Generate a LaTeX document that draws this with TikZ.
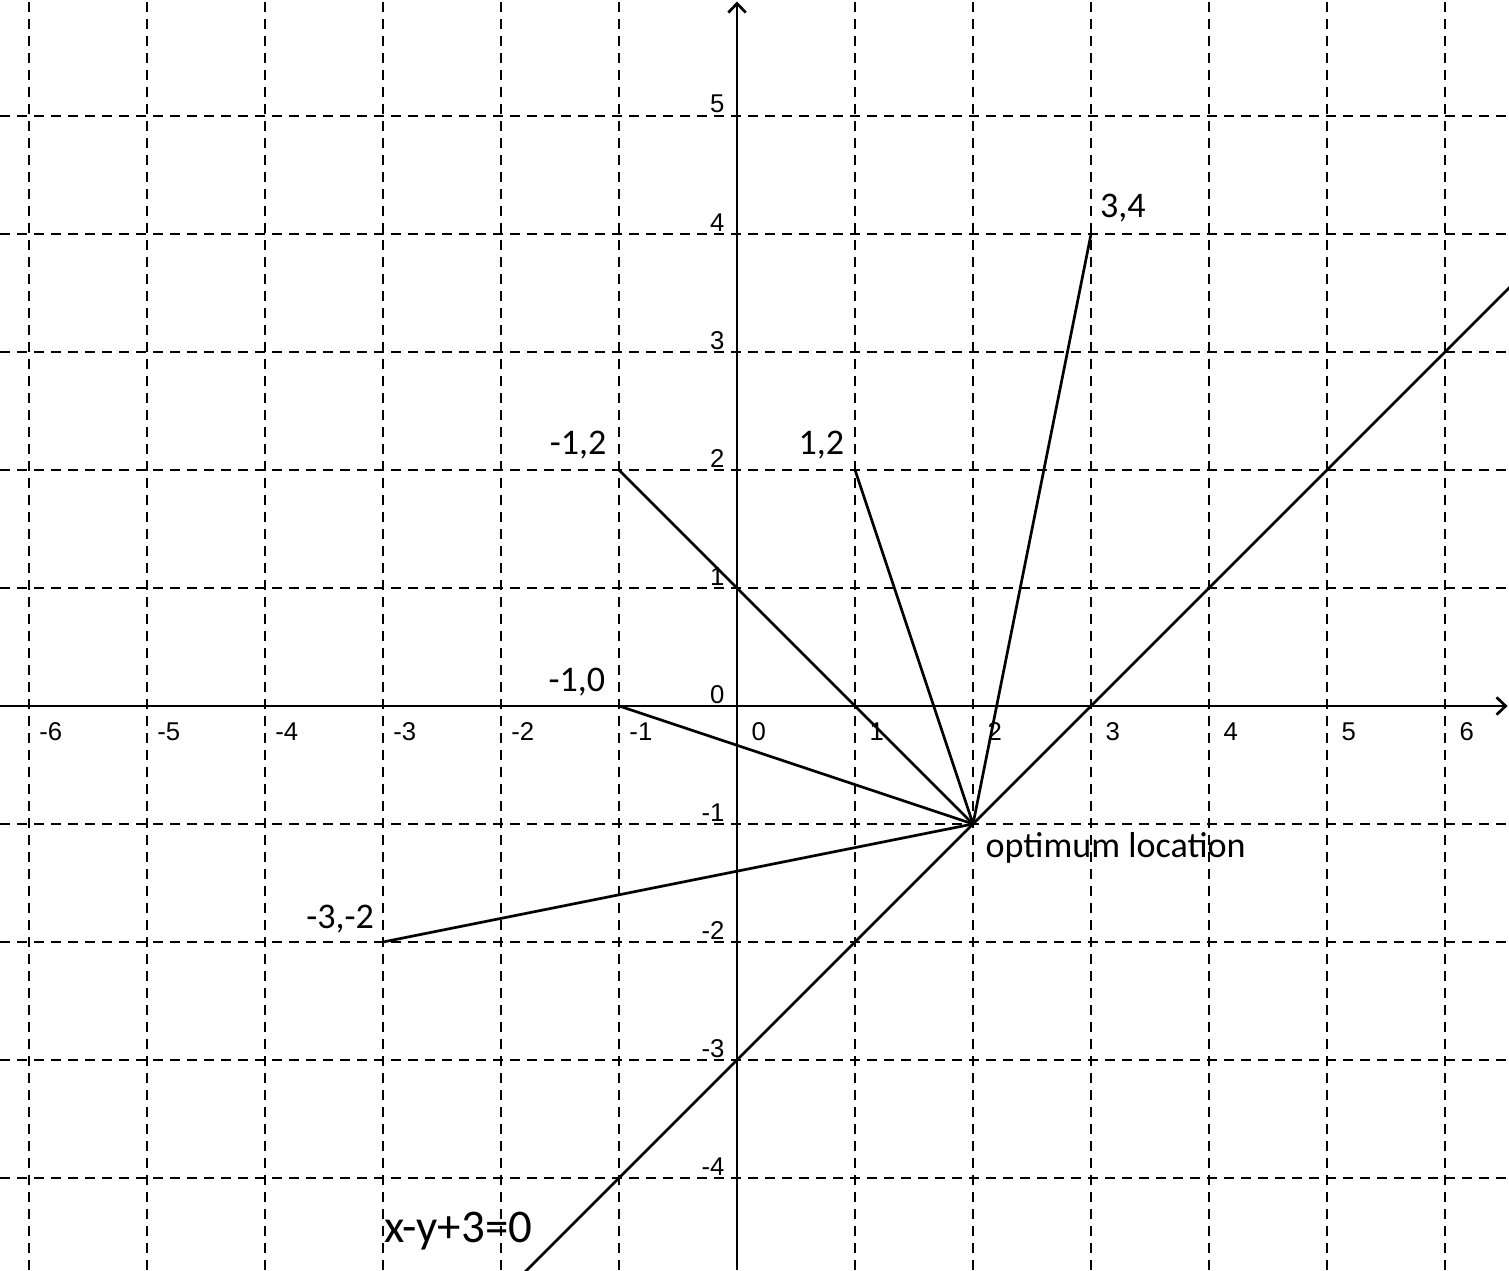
\documentclass[tikz,border=0pt]{standalone}
\usepackage{fontspec}
\setmainfont{Carlito}
\newfontfamily\ticksfont{Liberation Sans}
\usetikzlibrary{arrows.meta, positioning}

\begin{document}
\begin{tikzpicture}[
  gridline/.style={dash pattern=on 2.4pt off 1.7pt, line width=0.5pt},
  axis/.style={-{Straight Barb[length=2.2pt, width=4.2pt]}, line width=0.65pt},
  link/.style={line width=0.65pt},
  tick/.style={font=\ticksfont\fontsize{6.2}{7}\selectfont, inner sep=0pt},
  ptlabel/.style={font=\fontsize{8.7}{10}\selectfont, inner sep=0pt},
]
  \useasboundingbox (-6.246,-4.780) rectangle (6.542,5.983);
  \clip (-6.246,-4.780) rectangle (6.542,5.983);

  % Grid
  \foreach \x in {-6,...,-1,1,2,...,6}
    \draw[gridline] (\x,-4.78) -- (\x,5.983);
  \foreach \y in {-4,...,-1,1,2,...,5}
    \draw[gridline] (-6.246,\y) -- (6.542,\y);

  % Axes
  \draw[axis] (-6.246,0) -- (6.53,0);
  \draw[axis] (0,-4.78) -- (0,5.97);

  % Tick labels
  \foreach \x in {-6,...,6}
    \node[tick] at (\x+0.185,-0.22) {\x};
  \foreach \y in {-4,...,5}
    \node[tick, anchor=east] at (-0.1,\y+0.1) {\y};

  % Locations
  \coordinate (opt) at (2,-1);
  \coordinate (nw) at (-1,2);
  \coordinate (ne) at (1,2);
  \coordinate (top) at (3,4);
  \coordinate (west) at (-1,0);
  \coordinate (sw) at (-3,-2);

  \node[ptlabel, above left=0.085cm and 0.10cm of nw] (nwlbl) {-1,2};
  \node[ptlabel, above left=0.085cm and 0.085cm of ne] (nelbl) {1,2};
  \node[ptlabel, above right=0.095cm and 0.07cm of top] (toplbl) {3,4};
  \node[ptlabel, above left=0.08cm and 0.11cm of west] (westlbl) {-1,0};
  \node[ptlabel, above left=0.07cm and 0.07cm of sw] (swlbl) {-3,-2};
  \node[ptlabel, below right=0.068cm and 0.10cm of opt] (optlbl) {optimum location};

  % Links to the optimum
  \foreach \p in {nw, ne, top, west, sw}
    \draw[link] (\p) -- (opt);

  % Constraint line
  \draw[link] (-2,-5) -- (7,4);
  \node[font=\fontsize{11.3}{13}\selectfont, inner sep=0pt] (eqn) at (-2.364,-4.449) {x-y+3=0};
\end{tikzpicture}
\end{document}
